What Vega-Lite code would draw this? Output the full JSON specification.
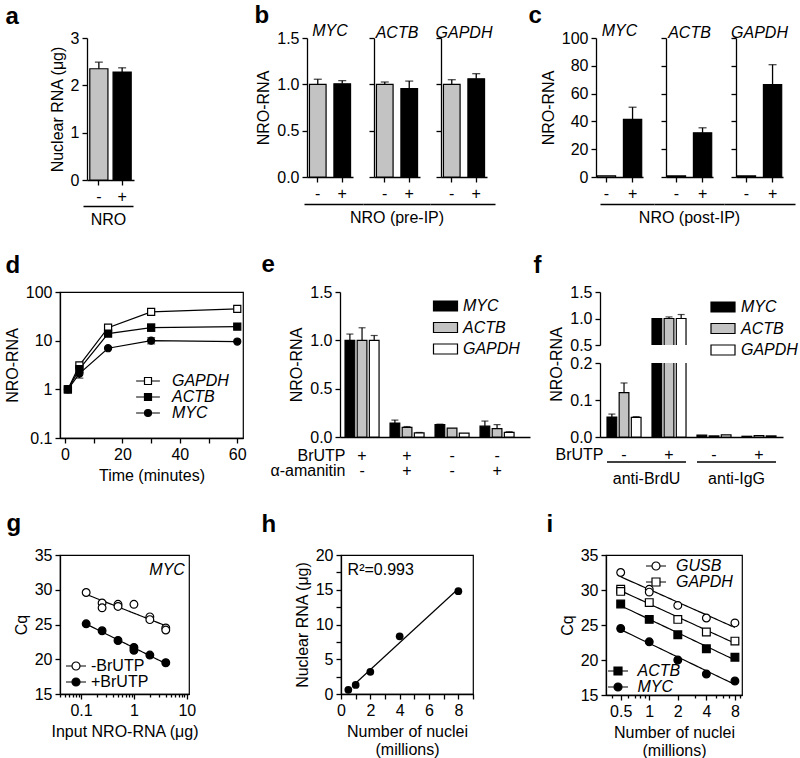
{
  "$schema": "https://vega.github.io/schema/vega-lite/v6.json",
  "background": "white",
  "padding": {"left": 3, "top": 3, "right": 2, "bottom": 1},
  "config": {
    "font": "Liberation Sans",
    "view": {"stroke": null},
    "axis": {"domainColor": "black", "domainWidth": 1.3, "tickColor": "black", "tickWidth": 1.3, "tickSize": 5, "labelFont": "Liberation Sans", "titleFont": "Liberation Sans", "labelFontSize": 16, "titleFontSize": 16, "titleFontWeight": "normal", "labelColor": "black", "titleColor": "black", "grid": false, "labelPadding": 3, "titlePadding": 5, "labelFlush": false, "labelOverlap": false},
    "axisX": {"labelAngle": 0},
    "legend": {"labelFont": "Liberation Sans", "labelFontSize": 16, "labelColor": "black", "titleFontSize": 16},
    "text": {"font": "Liberation Sans", "fontSize": 16, "color": "black"},
    "bar": {"stroke": "black", "strokeWidth": 1.2}
  },
  "datasets": {
    "f": [
      {"grp": "BrdU-", "gene": "MYC", "value": 0.054, "hi": 0.062},
      {"grp": "BrdU-", "gene": "ACTB", "value": 0.12, "hi": 0.146},
      {"grp": "BrdU-", "gene": "GAPDH", "value": 0.053, "hi": 0.055},
      {"grp": "BrdU+", "gene": "MYC", "value": 1.0},
      {"grp": "BrdU+", "gene": "ACTB", "value": 1.0, "hi": 1.03},
      {"grp": "BrdU+", "gene": "GAPDH", "value": 1.0, "hi": 1.075},
      {"grp": "IgG-", "gene": "MYC", "value": 0.005},
      {"grp": "IgG-", "gene": "ACTB", "value": 0.003},
      {"grp": "IgG-", "gene": "GAPDH", "value": 0.006},
      {"grp": "IgG+", "gene": "MYC", "value": 0.002},
      {"grp": "IgG+", "gene": "ACTB", "value": 0.004},
      {"grp": "IgG+", "gene": "GAPDH", "value": 0.003}
    ]
  },
  "columns": 1, "align": "none", "spacing": 25,
  "resolve": {"scale": {"fill": "independent", "shape": "independent", "stroke": "independent"}},
  "concat": [
    {
      "align": "none", "spacing": 120,
      "resolve": {"scale": {"fill": "independent", "shape": "independent", "stroke": "independent"}},
      "concat": [
        {
          "width": 74, "height": 142,
          "data": {"values": [{"nro": "-", "value": 2.35, "hi": 2.49}, {"nro": "+", "value": 2.28, "hi": 2.37}]},
          "resolve": {"scale": {"x": "independent", "y": "independent"}, "axis": {"x": "independent", "y": "independent"}},
          "layer": [
            {"layer": [
              {"mark": {"type": "bar"}, "encoding": {
                "x": {"field": "nro", "type": "nominal", "sort": ["-", "+"], "scale": {"range": [27, 74], "paddingInner": 0.22, "paddingOuter": 0.12}, "axis": {"title": null}},
                "y": {"field": "value", "type": "quantitative", "scale": {"domain": [0, 3], "nice": false}, "axis": {"values": [0, 1, 2, 3], "tickCount": 100, "format": "d", "offset": -27, "title": "Nuclear RNA (μg)"}},
                "fill": {"field": "nro", "type": "nominal", "scale": {"domain": ["-", "+"], "range": ["#c3c3c3", "#000000"]}, "legend": null}}},
              {"transform": [{"filter": "isValid(datum.hi)"}], "mark": {"type": "rule", "color": "black", "strokeWidth": 1.3}, "encoding": {"x": {"field": "nro", "type": "nominal", "sort": ["-", "+"]}, "y": {"field": "value", "type": "quantitative"}, "y2": {"field": "hi"}}},
              {"mark": {"type": "tick", "color": "black", "thickness": 1.3, "size": 8}, "encoding": {"x": {"field": "nro", "type": "nominal", "sort": ["-", "+"]}, "y": {"field": "hi", "type": "quantitative"}}}
            ]},
            {"mark": {"type": "point", "opacity": 0}, "encoding": {"x": {"datum": 0, "type": "quantitative", "scale": {"domain": [0, 1], "range": [23, 73]}, "axis": {"orient": "bottom", "offset": 26, "ticks": false, "labels": false, "title": "NRO", "titlePadding": 5}}}},
            {"mark": {"type": "point", "opacity": 0}, "encoding": {"y": {"datum": 0, "type": "quantitative", "scale": {"domain": [0, 1]}, "axis": {"orient": "left", "domain": false, "ticks": false, "labels": false, "title": "a", "titleAngle": 0, "titleX": -55, "titleY": -15, "titleFontSize": 24, "titleFontWeight": "bold", "titleAlign": "left", "titleBaseline": "alphabetic"}}}}
          ]
        },
        {
          "align": "none", "spacing": 22,
          "resolve": {"scale": {"fill": "independent", "shape": "independent", "stroke": "independent"}},
          "concat": [
            {
              "spacing": 21, "bounds": "flush",
              "hconcat": [
                {
                  "width": 46, "height": 139,
                  "title": {"text": "MYC", "anchor": "middle", "fontSize": 16, "fontWeight": "normal", "fontStyle": "italic", "offset": -36, "color": "black"},
                  "data": {"values": [{"nro": "-", "value": 1.0, "hi": 1.055}, {"nro": "+", "value": 1.005, "hi": 1.04}]},
                  "resolve": {"scale": {"x": "independent", "y": "independent"}, "axis": {"x": "independent", "y": "independent"}},
                  "layer": [
                    {"layer": [
                      {"mark": {"type": "bar"}, "encoding": {
                        "x": {"field": "nro", "type": "nominal", "sort": ["-", "+"], "scale": {"paddingInner": 0.32, "paddingOuter": 0.1}, "axis": {"title": null}},
                        "y": {"field": "value", "type": "quantitative", "scale": {"domain": [0, 1.5], "nice": false}, "axis": {"values": [0, 0.5, 1, 1.5], "tickCount": 100, "format": ".1f", "title": "NRO-RNA"}},
                        "fill": {"field": "nro", "type": "nominal", "scale": {"domain": ["-", "+"], "range": ["#c3c3c3", "#000000"]}, "legend": null}}},
                      {"transform": [{"filter": "isValid(datum.hi)"}], "mark": {"type": "rule", "color": "black", "strokeWidth": 1.3}, "encoding": {"x": {"field": "nro", "type": "nominal", "sort": ["-", "+"]}, "y": {"field": "value", "type": "quantitative"}, "y2": {"field": "hi"}}},
                      {"mark": {"type": "tick", "color": "black", "thickness": 1.3, "size": 8}, "encoding": {"x": {"field": "nro", "type": "nominal", "sort": ["-", "+"]}, "y": {"field": "hi", "type": "quantitative"}}}
                    ]},
                    {"mark": {"type": "point", "opacity": 0}, "encoding": {"x": {"datum": 0, "type": "quantitative", "scale": {"domain": [0, 1], "range": [-3, 56]}, "axis": {"orient": "bottom", "offset": 27, "ticks": false, "labels": false, "title": null}}}},
                    {"mark": {"type": "point", "opacity": 0}, "encoding": {"y": {"datum": 0, "type": "quantitative", "scale": {"domain": [0, 1]}, "axis": {"orient": "left", "domain": false, "ticks": false, "labels": false, "title": "b", "titleAngle": 0, "titleX": -53, "titleY": -16, "titleFontSize": 24, "titleFontWeight": "bold", "titleAlign": "left", "titleBaseline": "alphabetic"}}}}
                  ]
                },
                {
                  "width": 46, "height": 139,
                  "title": {"text": "ACTB", "anchor": "middle", "fontSize": 16, "fontWeight": "normal", "fontStyle": "italic", "offset": -4, "color": "black"},
                  "data": {"values": [{"nro": "-", "value": 1.0, "hi": 1.025}, {"nro": "+", "value": 0.955, "hi": 1.035}]},
                  "resolve": {"scale": {"x": "independent"}, "axis": {"x": "independent"}},
                  "layer": [
                    {"layer": [
                      {"mark": {"type": "bar"}, "encoding": {
                        "x": {"field": "nro", "type": "nominal", "sort": ["-", "+"], "scale": {"paddingInner": 0.32, "paddingOuter": 0.1}, "axis": {"title": null}},
                        "y": {"field": "value", "type": "quantitative", "scale": {"domain": [0, 1.5], "nice": false}, "axis": {"values": [0, 0.5, 1, 1.5], "tickCount": 100, "labels": false, "title": null}},
                        "fill": {"field": "nro", "type": "nominal", "scale": {"domain": ["-", "+"], "range": ["#c3c3c3", "#000000"]}, "legend": null}}},
                      {"transform": [{"filter": "isValid(datum.hi)"}], "mark": {"type": "rule", "color": "black", "strokeWidth": 1.3}, "encoding": {"x": {"field": "nro", "type": "nominal", "sort": ["-", "+"]}, "y": {"field": "value", "type": "quantitative"}, "y2": {"field": "hi"}}},
                      {"mark": {"type": "tick", "color": "black", "thickness": 1.3, "size": 8}, "encoding": {"x": {"field": "nro", "type": "nominal", "sort": ["-", "+"]}, "y": {"field": "hi", "type": "quantitative"}}}
                    ]},
                    {"mark": {"type": "point", "opacity": 0}, "encoding": {"x": {"datum": 0, "type": "quantitative", "scale": {"domain": [0, 1], "range": [-11, 56]}, "axis": {"orient": "bottom", "offset": 27, "ticks": false, "labels": false, "title": "NRO (pre-IP)", "titlePadding": 5}}}}
                  ]
                },
                {
                  "width": 46, "height": 139,
                  "title": {"text": "GAPDH", "anchor": "middle", "fontSize": 16, "fontWeight": "normal", "fontStyle": "italic", "offset": -4, "color": "black"},
                  "data": {"values": [{"nro": "-", "value": 1.0, "hi": 1.05}, {"nro": "+", "value": 1.06, "hi": 1.115}]},
                  "resolve": {"scale": {"x": "independent"}, "axis": {"x": "independent"}},
                  "layer": [
                    {"layer": [
                      {"mark": {"type": "bar"}, "encoding": {
                        "x": {"field": "nro", "type": "nominal", "sort": ["-", "+"], "scale": {"paddingInner": 0.32, "paddingOuter": 0.1}, "axis": {"title": null}},
                        "y": {"field": "value", "type": "quantitative", "scale": {"domain": [0, 1.5], "nice": false}, "axis": {"values": [0, 0.5, 1, 1.5], "tickCount": 100, "labels": false, "title": null}},
                        "fill": {"field": "nro", "type": "nominal", "scale": {"domain": ["-", "+"], "range": ["#c3c3c3", "#000000"]}, "legend": null}}},
                      {"transform": [{"filter": "isValid(datum.hi)"}], "mark": {"type": "rule", "color": "black", "strokeWidth": 1.3}, "encoding": {"x": {"field": "nro", "type": "nominal", "sort": ["-", "+"]}, "y": {"field": "value", "type": "quantitative"}, "y2": {"field": "hi"}}},
                      {"mark": {"type": "tick", "color": "black", "thickness": 1.3, "size": 8}, "encoding": {"x": {"field": "nro", "type": "nominal", "sort": ["-", "+"]}, "y": {"field": "hi", "type": "quantitative"}}}
                    ]},
                    {"mark": {"type": "point", "opacity": 0}, "encoding": {"x": {"datum": 0, "type": "quantitative", "scale": {"domain": [0, 1], "range": [-11, 54]}, "axis": {"orient": "bottom", "offset": 27, "ticks": false, "labels": false, "title": null}}}}
                  ]
                }
              ]
            },
            {
              "spacing": 23, "bounds": "flush",
              "hconcat": [
                {
                  "width": 47, "height": 139,
                  "title": {"text": "MYC", "anchor": "middle", "fontSize": 16, "fontWeight": "normal", "fontStyle": "italic", "offset": -36, "color": "black"},
                  "data": {"values": [{"nro": "-", "value": 0.9}, {"nro": "+", "value": 41.5, "hi": 50.2}]},
                  "resolve": {"scale": {"x": "independent", "y": "independent"}, "axis": {"x": "independent", "y": "independent"}},
                  "layer": [
                    {"layer": [
                      {"mark": {"type": "bar"}, "encoding": {
                        "x": {"field": "nro", "type": "nominal", "sort": ["-", "+"], "scale": {"paddingInner": 0.3, "paddingOuter": 0.05}, "axis": {"title": null}},
                        "y": {"field": "value", "type": "quantitative", "scale": {"domain": [0, 100], "nice": false}, "axis": {"values": [0, 20, 40, 60, 80, 100], "tickCount": 100, "format": "d", "title": "NRO-RNA"}},
                        "fill": {"field": "nro", "type": "nominal", "scale": {"domain": ["-", "+"], "range": ["#c3c3c3", "#000000"]}, "legend": null}}},
                      {"transform": [{"filter": "isValid(datum.hi)"}], "mark": {"type": "rule", "color": "black", "strokeWidth": 1.3}, "encoding": {"x": {"field": "nro", "type": "nominal", "sort": ["-", "+"]}, "y": {"field": "value", "type": "quantitative"}, "y2": {"field": "hi"}}},
                      {"mark": {"type": "tick", "color": "black", "thickness": 1.3, "size": 8}, "encoding": {"x": {"field": "nro", "type": "nominal", "sort": ["-", "+"]}, "y": {"field": "hi", "type": "quantitative"}}}
                    ]},
                    {"mark": {"type": "point", "opacity": 0}, "encoding": {"x": {"datum": 0, "type": "quantitative", "scale": {"domain": [0, 1], "range": [4, 58]}, "axis": {"orient": "bottom", "offset": 27, "ticks": false, "labels": false, "title": null}}}},
                    {"mark": {"type": "point", "opacity": 0}, "encoding": {"y": {"datum": 0, "type": "quantitative", "scale": {"domain": [0, 1]}, "axis": {"orient": "left", "domain": false, "ticks": false, "labels": false, "title": "c", "titleAngle": 0, "titleX": -68, "titleY": -16, "titleFontSize": 24, "titleFontWeight": "bold", "titleAlign": "left", "titleBaseline": "alphabetic"}}}}
                  ]
                },
                {
                  "width": 47, "height": 139,
                  "title": {"text": "ACTB", "anchor": "middle", "fontSize": 16, "fontWeight": "normal", "fontStyle": "italic", "offset": -4, "color": "black"},
                  "data": {"values": [{"nro": "-", "value": 0.8}, {"nro": "+", "value": 31.8, "hi": 35.4}]},
                  "resolve": {"scale": {"x": "independent"}, "axis": {"x": "independent"}},
                  "layer": [
                    {"layer": [
                      {"mark": {"type": "bar"}, "encoding": {
                        "x": {"field": "nro", "type": "nominal", "sort": ["-", "+"], "scale": {"paddingInner": 0.3, "paddingOuter": 0.05}, "axis": {"title": null}},
                        "y": {"field": "value", "type": "quantitative", "scale": {"domain": [0, 100], "nice": false}, "axis": {"values": [0, 20, 40, 60, 80, 100], "tickCount": 100, "labels": false, "title": null}},
                        "fill": {"field": "nro", "type": "nominal", "scale": {"domain": ["-", "+"], "range": ["#c3c3c3", "#000000"]}, "legend": null}}},
                      {"transform": [{"filter": "isValid(datum.hi)"}], "mark": {"type": "rule", "color": "black", "strokeWidth": 1.3}, "encoding": {"x": {"field": "nro", "type": "nominal", "sort": ["-", "+"]}, "y": {"field": "value", "type": "quantitative"}, "y2": {"field": "hi"}}},
                      {"mark": {"type": "tick", "color": "black", "thickness": 1.3, "size": 8}, "encoding": {"x": {"field": "nro", "type": "nominal", "sort": ["-", "+"]}, "y": {"field": "hi", "type": "quantitative"}}}
                    ]},
                    {"mark": {"type": "point", "opacity": 0}, "encoding": {"x": {"datum": 0, "type": "quantitative", "scale": {"domain": [0, 1], "range": [-12, 58]}, "axis": {"orient": "bottom", "offset": 27, "ticks": false, "labels": false, "title": "NRO (post-IP)", "titlePadding": 5}}}}
                  ]
                },
                {
                  "width": 47, "height": 139,
                  "title": {"text": "GAPDH", "anchor": "middle", "fontSize": 16, "fontWeight": "normal", "fontStyle": "italic", "offset": -4, "color": "black"},
                  "data": {"values": [{"nro": "-", "value": 0.8}, {"nro": "+", "value": 66.5, "hi": 80.8}]},
                  "resolve": {"scale": {"x": "independent"}, "axis": {"x": "independent"}},
                  "layer": [
                    {"layer": [
                      {"mark": {"type": "bar"}, "encoding": {
                        "x": {"field": "nro", "type": "nominal", "sort": ["-", "+"], "scale": {"paddingInner": 0.3, "paddingOuter": 0.05}, "axis": {"title": null}},
                        "y": {"field": "value", "type": "quantitative", "scale": {"domain": [0, 100], "nice": false}, "axis": {"values": [0, 20, 40, 60, 80, 100], "tickCount": 100, "labels": false, "title": null}},
                        "fill": {"field": "nro", "type": "nominal", "scale": {"domain": ["-", "+"], "range": ["#c3c3c3", "#000000"]}, "legend": null}}},
                      {"transform": [{"filter": "isValid(datum.hi)"}], "mark": {"type": "rule", "color": "black", "strokeWidth": 1.3}, "encoding": {"x": {"field": "nro", "type": "nominal", "sort": ["-", "+"]}, "y": {"field": "value", "type": "quantitative"}, "y2": {"field": "hi"}}},
                      {"mark": {"type": "tick", "color": "black", "thickness": 1.3, "size": 8}, "encoding": {"x": {"field": "nro", "type": "nominal", "sort": ["-", "+"]}, "y": {"field": "hi", "type": "quantitative"}}}
                    ]},
                    {"mark": {"type": "point", "opacity": 0}, "encoding": {"x": {"datum": 0, "type": "quantitative", "scale": {"domain": [0, 1], "range": [-12, 59]}, "axis": {"orient": "bottom", "offset": 27, "ticks": false, "labels": false, "title": null}}}}
                  ]
                }
              ]
            }
          ]
        }
      ]
    },
    {
      "columns": 1, "align": "none", "spacing": 23,
      "resolve": {"scale": {"fill": "independent", "shape": "independent", "stroke": "independent"}},
      "concat": [
        {
          "align": "none", "spacing": 3,
          "resolve": {"scale": {"fill": "independent", "shape": "independent", "stroke": "independent"}},
          "concat": [
            {
              "align": "none", "spacing": 14,
              "resolve": {"scale": {"fill": "independent", "shape": "independent", "stroke": "independent"}},
              "concat": [
                {
                  "width": 183, "height": 146,
                  "view": {"stroke": "black", "strokeWidth": 1.2},
                  "data": {"values": [
                    {"gene": "GAPDH", "t": 1, "v": 1}, {"gene": "GAPDH", "t": 5, "v": 3.1}, {"gene": "GAPDH", "t": 15, "v": 18.5}, {"gene": "GAPDH", "t": 30, "v": 39}, {"gene": "GAPDH", "t": 60, "v": 45},
                    {"gene": "ACTB", "t": 1, "v": 1}, {"gene": "ACTB", "t": 5, "v": 2.6}, {"gene": "ACTB", "t": 15, "v": 14}, {"gene": "ACTB", "t": 30, "v": 18.5, "lo": 15.5, "hi": 22}, {"gene": "ACTB", "t": 60, "v": 19.5},
                    {"gene": "MYC", "t": 1, "v": 1}, {"gene": "MYC", "t": 5, "v": 2.1, "lo": 1.7, "hi": 2.5}, {"gene": "MYC", "t": 15, "v": 7}, {"gene": "MYC", "t": 30, "v": 10, "lo": 8.6, "hi": 11.5}, {"gene": "MYC", "t": 60, "v": 9.6}
                  ]},
                  "resolve": {"scale": {"y": "independent"}, "axis": {"y": "independent"}},
                  "layer": [
                    {
                      "resolve": {"scale": {"shape": "independent", "fill": "independent", "stroke": "independent"}},
                      "layer": [
                        {"mark": {"type": "line", "color": "black", "strokeWidth": 1.2}, "encoding": {
                          "x": {"field": "t", "type": "quantitative", "scale": {"domain": [-1.75, 62], "nice": false, "zero": false}, "axis": {"values": [0, 10, 20, 30, 40, 50, 60], "tickCount": 100, "format": "d", "labelExpr": "datum.value % 20 === 0 ? datum.label : ''", "title": "Time (minutes)"}},
                          "y": {"field": "v", "type": "quantitative", "scale": {"type": "log", "domain": [0.1, 100], "nice": false}, "axis": {"values": [0.1, 1, 10, 100], "tickCount": 100, "format": "~g", "title": "NRO-RNA"}},
                          "detail": {"field": "gene"}}},
                        {"transform": [{"filter": "isValid(datum.lo)"}], "mark": {"type": "rule", "color": "black", "strokeWidth": 1.2}, "encoding": {"x": {"field": "t", "type": "quantitative"}, "y": {"field": "lo", "type": "quantitative"}, "y2": {"field": "hi"}}},
                        {"transform": [{"filter": "isValid(datum.lo)"}], "mark": {"type": "tick", "orient": "horizontal", "color": "black", "thickness": 1.2, "size": 8}, "encoding": {"x": {"field": "t", "type": "quantitative"}, "y": {"field": "lo", "type": "quantitative"}}},
                        {"transform": [{"filter": "isValid(datum.hi)"}], "mark": {"type": "tick", "orient": "horizontal", "color": "black", "thickness": 1.2, "size": 8}, "encoding": {"x": {"field": "t", "type": "quantitative"}, "y": {"field": "hi", "type": "quantitative"}}},
                        {"mark": {"type": "point", "filled": true, "stroke": "black", "strokeWidth": 1.2, "size": 50, "opacity": 1}, "encoding": {
                          "x": {"field": "t", "type": "quantitative"}, "y": {"field": "v", "type": "quantitative"},
                          "shape": {"field": "gene", "type": "nominal", "scale": {"domain": ["GAPDH", "ACTB", "MYC"], "range": ["square", "square", "circle"]}, "legend": null},
                          "fill": {"field": "gene", "type": "nominal", "scale": {"domain": ["GAPDH", "ACTB", "MYC"], "range": ["#ffffff", "#000000", "#000000"]}, "legend": null}}},
                        {"transform": [{"filter": "false"}], "mark": {"type": "point", "filled": true, "stroke": "black", "strokeWidth": 1.2, "opacity": 1}, "encoding": {
                          "x": {"field": "t", "type": "quantitative"}, "y": {"field": "v", "type": "quantitative"},
                          "shape": {"field": "gene", "type": "nominal", "scale": {"domain": ["GAPDH", "ACTB", "MYC"], "range": ["M-3.4,0H-1M1,0H3.4M-1,-1H1V1H-1Z", "M-3.4,0H-1M1,0H3.4M-1,-1H1V1H-1Z", "M-3.4,0H-1M1,0H3.4M1,0A1,1,0,1,1,-1,0A1,1,0,1,1,1,0Z"]}, "legend": {"orient": "none", "legendX": 80, "legendY": 81, "title": null, "labelFontStyle": "italic", "symbolSize": 49, "symbolStrokeWidth": 1.2, "labelOffset": 16, "rowPadding": 0}},
                          "fill": {"field": "gene", "type": "nominal", "scale": {"domain": ["GAPDH", "ACTB", "MYC"], "range": ["#ffffff", "#000000", "#000000"]}, "legend": {"orient": "none", "legendX": 80, "legendY": 81, "title": null, "labelFontStyle": "italic", "symbolSize": 49, "symbolStrokeWidth": 1.2, "labelOffset": 16, "rowPadding": 0}},
                          "stroke": {"field": "gene", "type": "nominal", "scale": {"domain": ["GAPDH", "ACTB", "MYC"], "range": ["#000000", "#000000", "#000000"]}, "legend": {"orient": "none", "legendX": 80, "legendY": 81, "title": null, "labelFontStyle": "italic", "symbolSize": 49, "symbolStrokeWidth": 1.2, "labelOffset": 16, "rowPadding": 0}}}}
                      ]
                    },
                    {"mark": {"type": "point", "opacity": 0}, "encoding": {"y": {"datum": 0, "type": "quantitative", "scale": {"domain": [0, 1]}, "axis": {"orient": "left", "domain": false, "ticks": false, "labels": false, "title": "d", "titleAngle": 0, "titleX": -55, "titleY": -20, "titleFontSize": 24, "titleFontWeight": "bold", "titleAlign": "left", "titleBaseline": "alphabetic"}}}}
                  ]
                },
                {
                  "width": 190, "height": 145,
                  "data": {"values": [
                    {"grp": "+|-", "gene": "MYC", "value": 1.0, "hi": 1.065}, {"grp": "+|-", "gene": "ACTB", "value": 1.0, "hi": 1.13}, {"grp": "+|-", "gene": "GAPDH", "value": 1.0, "hi": 1.05},
                    {"grp": "+|+", "gene": "MYC", "value": 0.145, "hi": 0.175}, {"grp": "+|+", "gene": "ACTB", "value": 0.1, "hi": 0.108}, {"grp": "+|+", "gene": "GAPDH", "value": 0.043, "hi": 0.047},
                    {"grp": "-|-", "gene": "MYC", "value": 0.128, "hi": 0.133}, {"grp": "-|-", "gene": "ACTB", "value": 0.092}, {"grp": "-|-", "gene": "GAPDH", "value": 0.04},
                    {"grp": "-|+", "gene": "MYC", "value": 0.112, "hi": 0.165}, {"grp": "-|+", "gene": "ACTB", "value": 0.086, "hi": 0.128}, {"grp": "-|+", "gene": "GAPDH", "value": 0.047, "hi": 0.055}
                  ]},
                  "resolve": {"scale": {"y": "independent"}, "axis": {"y": "independent"}},
                  "layer": [
                    {"layer": [
                      {"mark": {"type": "bar"}, "encoding": {
                        "x": {"field": "grp", "type": "nominal", "scale": {"domain": ["+|-", "+|+", "-|-", "-|+"], "paddingInner": 0.244, "paddingOuter": 0.233, "align": 0.24}, "axis": {"labelExpr": "split(datum.label, '|')", "ticks": false, "labelPadding": 10, "labelLineHeight": 15, "title": ["BrUTP", "α-amanitin"], "titleX": 5, "titleY": 10, "titleAlign": "right", "titleBaseline": "top", "titleLineHeight": 15}},
                        "xOffset": {"field": "gene", "type": "nominal", "scale": {"domain": ["MYC", "ACTB", "GAPDH"], "paddingInner": 0.2}},
                        "y": {"field": "value", "type": "quantitative", "scale": {"domain": [0, 1.5], "nice": false}, "axis": {"values": [0, 0.5, 1, 1.5], "tickCount": 100, "format": ".1f", "title": "NRO-RNA"}},
                        "fill": {"field": "gene", "type": "nominal", "scale": {"domain": ["MYC", "ACTB", "GAPDH"], "range": ["#000000", "#c3c3c3", "#ffffff"]}, "legend": {"orient": "none", "legendX": 94.5, "legendY": 3, "title": null, "labelFontStyle": "italic", "symbolType": "M-1.2,-0.5H1.2V0.5H-1.2Z", "symbolSize": 400, "symbolStrokeWidth": 1.2, "labelOffset": 6.5, "rowPadding": 2.5}},
                        "stroke": {"field": "gene", "type": "nominal", "scale": {"domain": ["MYC", "ACTB", "GAPDH"], "range": ["#000000", "#000000", "#000000"]}, "legend": {"orient": "none", "legendX": 94.5, "legendY": 3, "title": null, "labelFontStyle": "italic", "symbolType": "M-1.2,-0.5H1.2V0.5H-1.2Z", "symbolSize": 400, "symbolStrokeWidth": 1.2, "labelOffset": 6.5, "rowPadding": 2.5}}}},
                      {"transform": [{"filter": "isValid(datum.hi)"}], "mark": {"type": "rule", "color": "black", "strokeWidth": 1.2}, "encoding": {"x": {"field": "grp", "type": "nominal"}, "xOffset": {"field": "gene", "type": "nominal"}, "y": {"field": "value", "type": "quantitative"}, "y2": {"field": "hi"}}},
                      {"mark": {"type": "tick", "color": "black", "thickness": 1.2, "size": 7}, "encoding": {"x": {"field": "grp", "type": "nominal"}, "xOffset": {"field": "gene", "type": "nominal"}, "y": {"field": "hi", "type": "quantitative"}}}
                    ]},
                    {"mark": {"type": "point", "opacity": 0}, "encoding": {"y": {"datum": 0, "type": "quantitative", "scale": {"domain": [0, 1]}, "axis": {"orient": "left", "domain": false, "ticks": false, "labels": false, "title": "e", "titleAngle": 0, "titleX": -79, "titleY": -21, "titleFontSize": 24, "titleFontWeight": "bold", "titleAlign": "left", "titleBaseline": "alphabetic"}}}}
                  ]
                }
              ]
            },
            {
              "spacing": 18, "bounds": "flush",
              "resolve": {"scale": {"fill": "independent", "shape": "independent", "stroke": "independent"}},
              "vconcat": [
                {
                  "width": 183, "height": 53,
                  "data": {"name": "f"},
                  "resolve": {"scale": {"y": "independent"}, "axis": {"y": "independent"}},
                  "layer": [
                    {"layer": [
                      {"mark": {"type": "bar", "clip": true}, "encoding": {
                        "x": {"field": "grp", "type": "nominal", "scale": {"domain": ["BrdU-", "BrdU+", "IgG-", "IgG+"], "paddingInner": 0.244, "paddingOuter": 0.156}, "axis": null},
                        "xOffset": {"field": "gene", "type": "nominal", "scale": {"domain": ["MYC", "ACTB", "GAPDH"], "paddingInner": 0.2}},
                        "y": {"field": "value", "type": "quantitative", "scale": {"domain": [0.5, 1.5], "nice": false, "zero": false}, "axis": {"values": [0.5, 1, 1.5], "tickCount": 100, "format": ".1f", "title": null}},
                        "fill": {"field": "gene", "type": "nominal", "scale": {"domain": ["MYC", "ACTB", "GAPDH"], "range": ["#000000", "#c3c3c3", "#ffffff"]}, "legend": {"orient": "none", "legendX": 112, "legendY": 4, "title": null, "labelFontStyle": "italic", "symbolType": "M-1.2,-0.5H1.2V0.5H-1.2Z", "symbolSize": 400, "symbolStrokeWidth": 1.2, "labelOffset": 7, "rowPadding": 2.5}},
                        "stroke": {"field": "gene", "type": "nominal", "scale": {"domain": ["MYC", "ACTB", "GAPDH"], "range": ["#000000", "#000000", "#000000"]}, "legend": {"orient": "none", "legendX": 112, "legendY": 4, "title": null, "labelFontStyle": "italic", "symbolType": "M-1.2,-0.5H1.2V0.5H-1.2Z", "symbolSize": 400, "symbolStrokeWidth": 1.2, "labelOffset": 7, "rowPadding": 2.5}}}},
                      {"transform": [{"filter": "isValid(datum.hi)"}], "mark": {"type": "rule", "color": "black", "strokeWidth": 1.2, "clip": true}, "encoding": {"x": {"field": "grp", "type": "nominal"}, "xOffset": {"field": "gene", "type": "nominal"}, "y": {"field": "value", "type": "quantitative"}, "y2": {"field": "hi"}}},
                      {"mark": {"type": "tick", "color": "black", "thickness": 1.2, "size": 7, "clip": true}, "encoding": {"x": {"field": "grp", "type": "nominal"}, "xOffset": {"field": "gene", "type": "nominal"}, "y": {"field": "hi", "type": "quantitative"}}}
                    ]},
                    {"mark": {"type": "point", "opacity": 0}, "encoding": {"y": {"datum": 0, "type": "quantitative", "scale": {"domain": [0, 1]}, "axis": {"orient": "left", "domain": false, "ticks": false, "labels": false, "title": "f", "titleAngle": 0, "titleX": -67, "titleY": -20, "titleFontSize": 24, "titleFontWeight": "bold", "titleAlign": "left", "titleBaseline": "alphabetic"}}}}
                  ]
                },
                {
                  "width": 183, "height": 74,
                  "layer": [
                    {"data": {"name": "f"}, "layer": [
                      {"mark": {"type": "bar", "clip": true}, "encoding": {
                        "x": {"field": "grp", "type": "nominal", "scale": {"domain": ["BrdU-", "BrdU+", "IgG-", "IgG+"], "paddingInner": 0.244, "paddingOuter": 0.156}, "axis": {"labelExpr": "slice(datum.label, -1)", "ticks": false, "labelPadding": 9, "title": "BrUTP", "titleX": 3, "titleY": 9, "titleAlign": "right", "titleBaseline": "top"}},
                        "xOffset": {"field": "gene", "type": "nominal", "scale": {"domain": ["MYC", "ACTB", "GAPDH"], "paddingInner": 0.2}},
                        "y": {"field": "value", "type": "quantitative", "scale": {"domain": [0, 0.2], "nice": false}, "axis": {"values": [0, 0.1, 0.2], "tickCount": 100, "format": ".1f", "title": "NRO-RNA", "titleY": 1}},
                        "fill": {"field": "gene", "type": "nominal", "scale": {"domain": ["MYC", "ACTB", "GAPDH"], "range": ["#000000", "#c3c3c3", "#ffffff"]}, "legend": null}}},
                      {"transform": [{"filter": "isValid(datum.hi)"}], "mark": {"type": "rule", "color": "black", "strokeWidth": 1.2, "clip": true}, "encoding": {"x": {"field": "grp", "type": "nominal"}, "xOffset": {"field": "gene", "type": "nominal"}, "y": {"field": "value", "type": "quantitative"}, "y2": {"field": "hi"}}},
                      {"mark": {"type": "tick", "color": "black", "thickness": 1.2, "size": 7, "clip": true}, "encoding": {"x": {"field": "grp", "type": "nominal"}, "xOffset": {"field": "gene", "type": "nominal"}, "y": {"field": "hi", "type": "quantitative"}}}
                    ]},
                    {"data": {"values": [{"from": "BrdU-", "to": "BrdU+", "label": "anti-BrdU"}, {"from": "IgG-", "to": "IgG+", "label": "anti-IgG"}]}, "layer": [
                      {"mark": {"type": "rule", "color": "black", "strokeWidth": 1.3}, "encoding": {"x": {"field": "from", "type": "nominal", "bandPosition": 0}, "x2": {"field": "to", "bandPosition": 1}, "y": {"datum": -0.0676, "type": "quantitative"}}},
                      {"mark": {"type": "text", "baseline": "middle", "align": "center"}, "encoding": {"x": {"field": "to", "type": "nominal", "bandPosition": -0.16}, "y": {"datum": -0.1135, "type": "quantitative"}, "text": {"field": "label"}}}
                    ]}
                  ]
                }
              ]
            }
          ]
        },
        {
          "align": "none", "spacing": 70,
          "resolve": {"scale": {"fill": "independent", "shape": "independent", "stroke": "independent"}},
          "concat": [
            {
              "align": "none", "spacing": 60,
              "resolve": {"scale": {"fill": "independent", "shape": "independent", "stroke": "independent"}},
              "concat": [
                {
                  "width": 129, "height": 139,
                  "view": {"stroke": "black", "strokeWidth": 1.2},
                  "data": {"values": [
                    {"series": "-BrUTP", "input": 0.125, "Cq": 29.6}, {"series": "-BrUTP", "input": 0.25, "Cq": 28.1}, {"series": "-BrUTP", "input": 0.25, "Cq": 27.4},
                    {"series": "-BrUTP", "input": 0.5, "Cq": 27.9}, {"series": "-BrUTP", "input": 0.5, "Cq": 27.6}, {"series": "-BrUTP", "input": 1, "Cq": 27.9},
                    {"series": "-BrUTP", "input": 2, "Cq": 26.1}, {"series": "-BrUTP", "input": 2, "Cq": 25.7}, {"series": "-BrUTP", "input": 4, "Cq": 24.5}, {"series": "-BrUTP", "input": 4, "Cq": 24.2},
                    {"series": "+BrUTP", "input": 0.125, "Cq": 25.1}, {"series": "+BrUTP", "input": 0.25, "Cq": 24.1}, {"series": "+BrUTP", "input": 0.5, "Cq": 22.7},
                    {"series": "+BrUTP", "input": 1, "Cq": 21.7}, {"series": "+BrUTP", "input": 1, "Cq": 21.3}, {"series": "+BrUTP", "input": 2, "Cq": 20.6}, {"series": "+BrUTP", "input": 4, "Cq": 19.5}
                  ]},
                  "resolve": {"scale": {"y": "independent"}, "axis": {"y": "independent"}},
                  "layer": [
                    {
                      "resolve": {"scale": {"shape": "independent", "fill": "independent", "stroke": "independent"}},
                      "layer": [
                        {"transform": [{"regression": "Cq", "on": "input", "groupby": ["series"], "method": "log"}], "mark": {"type": "line", "color": "black", "strokeWidth": 1.2}, "encoding": {
                          "x": {"field": "input", "type": "quantitative", "scale": {"type": "log", "domain": [0.04, 11], "nice": false}, "axis": {"values": [0.04, 0.05, 0.06, 0.07, 0.08, 0.09, 0.1, 0.2, 0.3, 0.4, 0.5, 0.6, 0.7, 0.8, 0.9, 1, 2, 3, 4, 5, 6, 7, 8, 9, 10], "tickCount": 100, "format": "~g", "labelExpr": "indexof([0.1, 1, 10], datum.value) >= 0 ? datum.label : ''", "tickSize": {"condition": {"test": "indexof([0.1, 1, 10], datum.value) >= 0", "value": 5}, "value": 3}, "title": "Input NRO-RNA (μg)"}},
                          "y": {"field": "Cq", "type": "quantitative", "scale": {"domain": [15, 35], "nice": false, "zero": false}, "axis": {"values": [15, 20, 25, 30, 35], "tickCount": 100, "format": "d", "title": "Cq"}},
                          "detail": {"field": "series"}}},
                        {"mark": {"type": "point", "filled": true, "stroke": "black", "strokeWidth": 1.2, "size": 60, "opacity": 1}, "encoding": {
                          "x": {"field": "input", "type": "quantitative"}, "y": {"field": "Cq", "type": "quantitative"},
                          "fill": {"field": "series", "type": "nominal", "scale": {"domain": ["-BrUTP", "+BrUTP"], "range": ["#ffffff", "#000000"]}, "legend": null}}},
                        {"transform": [{"filter": "false"}], "mark": {"type": "point", "filled": true, "stroke": "black", "strokeWidth": 1.2, "opacity": 1}, "encoding": {
                          "x": {"field": "input", "type": "quantitative"}, "y": {"field": "Cq", "type": "quantitative"},
                          "shape": {"field": "series", "type": "nominal", "scale": {"domain": ["-BrUTP", "+BrUTP"], "range": ["M-2.5,0H-1M1,0H2.5M1,0A1,1,0,1,1,-1,0A1,1,0,1,1,1,0Z", "M-2.5,0H-1M1,0H2.5M1,0A1,1,0,1,1,-1,0A1,1,0,1,1,1,0Z"]}, "legend": {"orient": "none", "legendX": 8, "legendY": 103, "title": null, "symbolSize": 64, "symbolStrokeWidth": 1.2, "labelOffset": 7, "rowPadding": 0}},
                          "fill": {"field": "series", "type": "nominal", "scale": {"domain": ["-BrUTP", "+BrUTP"], "range": ["#ffffff", "#000000"]}, "legend": {"orient": "none", "legendX": 8, "legendY": 103, "title": null, "symbolSize": 64, "symbolStrokeWidth": 1.2, "labelOffset": 7, "rowPadding": 0}},
                          "stroke": {"field": "series", "type": "nominal", "scale": {"domain": ["-BrUTP", "+BrUTP"], "range": ["#000000", "#000000"]}, "legend": {"orient": "none", "legendX": 8, "legendY": 103, "title": null, "symbolSize": 64, "symbolStrokeWidth": 1.2, "labelOffset": 7, "rowPadding": 0}}}},
                        {"data": {"values": [{"label": "MYC"}]}, "mark": {"type": "text", "align": "right", "baseline": "middle", "fontStyle": "italic"}, "encoding": {"x": {"datum": 9.2, "type": "quantitative"}, "y": {"datum": 32.85, "type": "quantitative"}, "text": {"field": "label"}}}
                      ]
                    },
                    {"mark": {"type": "point", "opacity": 0}, "encoding": {"y": {"datum": 0, "type": "quantitative", "scale": {"domain": [0, 1]}, "axis": {"orient": "left", "domain": false, "ticks": false, "labels": false, "title": "g", "titleAngle": 0, "titleX": -54, "titleY": -25, "titleFontSize": 24, "titleFontWeight": "bold", "titleAlign": "left", "titleBaseline": "alphabetic"}}}}
                  ]
                },
                {
                  "width": 132, "height": 139,
                  "view": {"stroke": "black", "strokeWidth": 1.2},
                  "data": {"values": [{"nuclei": 0.5, "rna": 0.6}, {"nuclei": 1, "rna": 1.3}, {"nuclei": 2, "rna": 3.2}, {"nuclei": 4, "rna": 8.3}, {"nuclei": 8, "rna": 14.8}]},
                  "resolve": {"scale": {"y": "independent"}, "axis": {"y": "independent"}},
                  "layer": [
                    {"layer": [
                      {"transform": [{"regression": "rna", "on": "nuclei", "method": "linear", "extent": [0.9, 8]}], "mark": {"type": "line", "color": "black", "strokeWidth": 1.2}, "encoding": {
                        "x": {"field": "nuclei", "type": "quantitative", "scale": {"domain": [0, 9], "nice": false}, "axis": {"values": [0, 1, 2, 3, 4, 5, 6, 7, 8, 9], "tickCount": 100, "format": "d", "labelExpr": "datum.value % 2 === 0 ? datum.label : ''", "title": ["Number of nuclei", "(millions)"], "titleLineHeight": 18}},
                        "y": {"field": "rna", "type": "quantitative", "scale": {"domain": [0, 20], "nice": false}, "axis": {"values": [0, 2.5, 5, 7.5, 10, 12.5, 15, 17.5, 20], "tickCount": 100, "format": "d", "labelExpr": "datum.value % 5 === 0 ? datum.label : ''", "title": "Nuclear RNA (μg)"}}}},
                      {"mark": {"type": "point", "filled": true, "color": "black", "size": 60, "opacity": 1}, "encoding": {"x": {"field": "nuclei", "type": "quantitative"}, "y": {"field": "rna", "type": "quantitative"}}},
                      {"data": {"values": [{"label": "R²=0.993"}]}, "mark": {"type": "text", "align": "left", "baseline": "middle"}, "encoding": {"x": {"datum": 0.45, "type": "quantitative"}, "y": {"datum": 17.8, "type": "quantitative"}, "text": {"field": "label"}}}
                    ]},
                    {"mark": {"type": "point", "opacity": 0}, "encoding": {"y": {"datum": 0, "type": "quantitative", "scale": {"domain": [0, 1]}, "axis": {"orient": "left", "domain": false, "ticks": false, "labels": false, "title": "h", "titleAngle": 0, "titleX": -80, "titleY": -24, "titleFontSize": 24, "titleFontWeight": "bold", "titleAlign": "left", "titleBaseline": "alphabetic"}}}}
                  ]
                }
              ]
            },
            {
              "width": 136, "height": 140,
              "view": {"stroke": "black", "strokeWidth": 1.2},
              "data": {"values": [
                {"gene": "GUSB", "nuclei": 0.5, "Cq": 32.5}, {"gene": "GUSB", "nuclei": 1, "Cq": 30.1}, {"gene": "GUSB", "nuclei": 1, "Cq": 29.7}, {"gene": "GUSB", "nuclei": 2, "Cq": 27.8}, {"gene": "GUSB", "nuclei": 4, "Cq": 26.0}, {"gene": "GUSB", "nuclei": 8, "Cq": 25.3},
                {"gene": "GAPDH", "nuclei": 0.5, "Cq": 30.1}, {"gene": "GAPDH", "nuclei": 0.5, "Cq": 29.8}, {"gene": "GAPDH", "nuclei": 1, "Cq": 28.2}, {"gene": "GAPDH", "nuclei": 2, "Cq": 25.8}, {"gene": "GAPDH", "nuclei": 4, "Cq": 24.0}, {"gene": "GAPDH", "nuclei": 8, "Cq": 22.7},
                {"gene": "ACTB", "nuclei": 0.5, "Cq": 28.0}, {"gene": "ACTB", "nuclei": 1, "Cq": 25.8}, {"gene": "ACTB", "nuclei": 2, "Cq": 23.6}, {"gene": "ACTB", "nuclei": 4, "Cq": 21.6}, {"gene": "ACTB", "nuclei": 8, "Cq": 20.4},
                {"gene": "MYC", "nuclei": 0.5, "Cq": 24.5}, {"gene": "MYC", "nuclei": 1, "Cq": 22.6}, {"gene": "MYC", "nuclei": 2, "Cq": 20.0}, {"gene": "MYC", "nuclei": 4, "Cq": 18.0}, {"gene": "MYC", "nuclei": 8, "Cq": 17.0}
              ]},
              "resolve": {"scale": {"y": "independent"}, "axis": {"y": "independent"}},
              "layer": [
                {
                  "resolve": {"scale": {"shape": "independent", "fill": "independent", "stroke": "independent"}},
                  "layer": [
                    {"transform": [{"regression": "Cq", "on": "nuclei", "groupby": ["gene"], "method": "log"}], "mark": {"type": "line", "color": "black", "strokeWidth": 1.2}, "encoding": {
                      "x": {"field": "nuclei", "type": "quantitative", "scale": {"type": "log", "domain": [0.35, 9.5], "nice": false}, "axis": {"values": [0.4, 0.5, 0.6, 0.7, 0.8, 0.9, 1, 2, 3, 4, 5, 6, 7, 8, 9], "tickCount": 100, "format": "~g", "labelExpr": "indexof([0.5, 1, 2, 4, 8], datum.value) >= 0 ? datum.label : ''", "tickSize": {"condition": {"test": "indexof([0.5, 1, 2, 4, 8], datum.value) >= 0", "value": 5}, "value": 3}, "title": ["Number of nuclei", "(millions)"], "titleLineHeight": 18}},
                      "y": {"field": "Cq", "type": "quantitative", "scale": {"domain": [15, 35], "nice": false, "zero": false}, "axis": {"values": [15, 20, 25, 30, 35], "tickCount": 100, "format": "d", "title": "Cq"}},
                      "detail": {"field": "gene"}}},
                    {"transform": [{"filter": "datum.gene === 'GUSB' || datum.gene === 'GAPDH'"}], "mark": {"type": "point", "filled": true, "fill": "white", "stroke": "black", "strokeWidth": 1.2, "size": 60, "opacity": 1}, "encoding": {
                      "x": {"field": "nuclei", "type": "quantitative"}, "y": {"field": "Cq", "type": "quantitative"},
                      "shape": {"field": "gene", "type": "nominal", "scale": {"domain": ["GUSB", "GAPDH"], "range": ["circle", "square"]}, "legend": null}}},
                    {"transform": [{"filter": "datum.gene === 'ACTB' || datum.gene === 'MYC'"}], "mark": {"type": "point", "filled": true, "fill": "black", "stroke": "black", "strokeWidth": 1.2, "size": 60, "opacity": 1}, "encoding": {
                      "x": {"field": "nuclei", "type": "quantitative"}, "y": {"field": "Cq", "type": "quantitative"},
                      "shape": {"field": "gene", "type": "nominal", "scale": {"domain": ["ACTB", "MYC"], "range": ["square", "circle"]}, "legend": null}}},
                    {"transform": [{"filter": "false"}], "mark": {"type": "point", "filled": true, "stroke": "black", "strokeWidth": 1.2, "opacity": 1}, "encoding": {
                      "x": {"field": "nuclei", "type": "quantitative"}, "y": {"field": "Cq", "type": "quantitative"},
                      "shape": {"field": "gene", "type": "nominal", "scale": {"domain": ["GUSB", "GAPDH"], "range": ["M-2.5,0H-1M1,0H2.5M1,0A1,1,0,1,1,-1,0A1,1,0,1,1,1,0Z", "M-2.5,0H-1M1,0H2.5M-1,-1H1V1H-1Z"]}, "legend": {"orient": "none", "legendX": 42, "legendY": 3, "title": null, "labelFontStyle": "italic", "symbolSize": 64, "symbolStrokeWidth": 1.2, "labelOffset": 12, "rowPadding": -5.5}},
                      "fill": {"field": "gene", "type": "nominal", "scale": {"domain": ["GUSB", "GAPDH"], "range": ["#ffffff", "#ffffff"]}, "legend": {"orient": "none", "legendX": 42, "legendY": 3, "title": null, "labelFontStyle": "italic", "symbolSize": 64, "symbolStrokeWidth": 1.2, "labelOffset": 12, "rowPadding": -5.5}},
                      "stroke": {"field": "gene", "type": "nominal", "scale": {"domain": ["GUSB", "GAPDH"], "range": ["#000000", "#000000"]}, "legend": {"orient": "none", "legendX": 42, "legendY": 3, "title": null, "labelFontStyle": "italic", "symbolSize": 64, "symbolStrokeWidth": 1.2, "labelOffset": 12, "rowPadding": -5.5}}}},
                    {"transform": [{"filter": "false"}], "mark": {"type": "point", "filled": true, "stroke": "black", "strokeWidth": 1.2, "opacity": 1}, "encoding": {
                      "x": {"field": "nuclei", "type": "quantitative"}, "y": {"field": "Cq", "type": "quantitative"},
                      "shape": {"field": "gene", "type": "nominal", "scale": {"domain": ["ACTB", "MYC"], "range": ["M-2.5,0H-1M1,0H2.5M-1,-1H1V1H-1Z", "M-2.5,0H-1M1,0H2.5M1,0A1,1,0,1,1,-1,0A1,1,0,1,1,1,0Z"]}, "legend": {"orient": "none", "legendX": 4, "legendY": 108, "title": null, "labelFontStyle": "italic", "symbolSize": 64, "symbolStrokeWidth": 1.2, "labelOffset": 11.5, "rowPadding": -5.5}},
                      "fill": {"field": "gene", "type": "nominal", "scale": {"domain": ["ACTB", "MYC"], "range": ["#000000", "#000000"]}, "legend": {"orient": "none", "legendX": 4, "legendY": 108, "title": null, "labelFontStyle": "italic", "symbolSize": 64, "symbolStrokeWidth": 1.2, "labelOffset": 11.5, "rowPadding": -5.5}},
                      "stroke": {"field": "gene", "type": "nominal", "scale": {"domain": ["ACTB", "MYC"], "range": ["#000000", "#000000"]}, "legend": {"orient": "none", "legendX": 4, "legendY": 108, "title": null, "labelFontStyle": "italic", "symbolSize": 64, "symbolStrokeWidth": 1.2, "labelOffset": 11.5, "rowPadding": -5.5}}}}
                  ]
                },
                {"mark": {"type": "point", "opacity": 0}, "encoding": {"y": {"datum": 0, "type": "quantitative", "scale": {"domain": [0, 1]}, "axis": {"orient": "left", "domain": false, "ticks": false, "labels": false, "title": "i", "titleAngle": 0, "titleX": -60, "titleY": -24, "titleFontSize": 24, "titleFontWeight": "bold", "titleAlign": "left", "titleBaseline": "alphabetic"}}}}
              ]
            }
          ]
        }
      ]
    }
  ]
}
